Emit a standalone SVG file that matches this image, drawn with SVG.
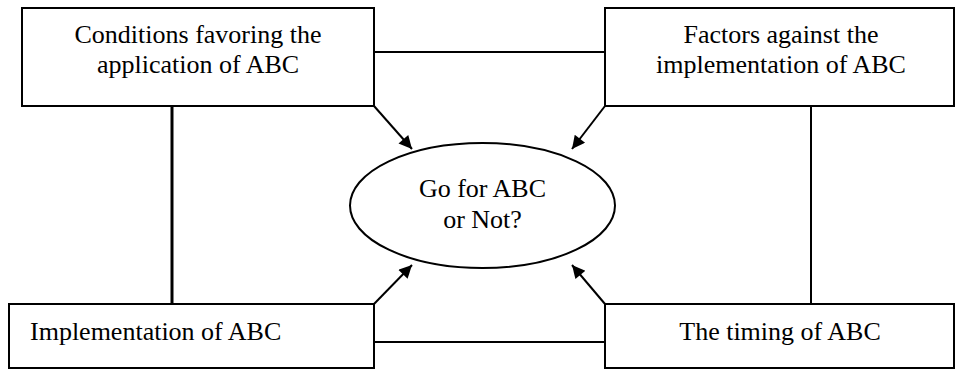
<svg xmlns="http://www.w3.org/2000/svg" width="956" height="369" viewBox="0 0 956 369">
<style>
.box{fill:#fff;stroke:#000;stroke-width:2}
.t{font-family:"Liberation Serif","Times New Roman",serif;font-size:26px;fill:#000}
.c{text-anchor:middle}
.ln{stroke:#000;stroke-width:2;fill:none}
.ar{stroke:#000;stroke-width:2;fill:none;marker-end:url(#ah)}
</style>
<defs>
<marker id="ah" viewBox="0 0 10 10" refX="10" refY="5" markerWidth="17" markerHeight="13" markerUnits="userSpaceOnUse" orient="auto">
<path d="M0,0 L10,5 L0,10 z" fill="#000"/>
</marker>
</defs>
<rect width="956" height="369" fill="#fff"/>
<g id="connectors">
<line class="ln" x1="374" y1="52" x2="605" y2="52"/>
<line class="ln" x1="374" y1="342" x2="605" y2="342"/>
<line class="ln" x1="172" y1="106" x2="172" y2="304" style="stroke-width:3"/>
<line class="ln" x1="811" y1="106" x2="811" y2="304"/>
<line class="ar" x1="374" y1="106" x2="412" y2="149"/>
<line class="ar" x1="605" y1="106" x2="572" y2="149"/>
<line class="ar" x1="374" y1="304" x2="412" y2="265"/>
<line class="ar" x1="605" y1="304" x2="572" y2="265"/>
</g>
<g id="conditions">
<rect class="box" x="22" y="8" width="352" height="98"/>
<text class="t c" x="198" y="43">Conditions favoring the</text>
<text class="t c" x="198" y="73">application of ABC</text>
</g>
<g id="factors">
<rect class="box" x="605" y="8" width="349" height="98"/>
<text class="t c" x="781" y="43">Factors against the</text>
<text class="t c" x="781" y="73">implementation of ABC</text>
</g>
<g id="implementation">
<rect class="box" x="9" y="304" width="365" height="64"/>
<text class="t" x="30" y="340">Implementation of ABC</text>
</g>
<g id="timing">
<rect class="box" x="605" y="304" width="349" height="64"/>
<text class="t c" x="780" y="340">The timing of ABC</text>
</g>
<g id="decision">
<ellipse class="box" cx="482.5" cy="205.5" rx="132.5" ry="62.5"/>
<text class="t c" x="482.5" y="197">Go for ABC</text>
<text class="t c" x="482.5" y="228">or Not?</text>
</g>
</svg>
